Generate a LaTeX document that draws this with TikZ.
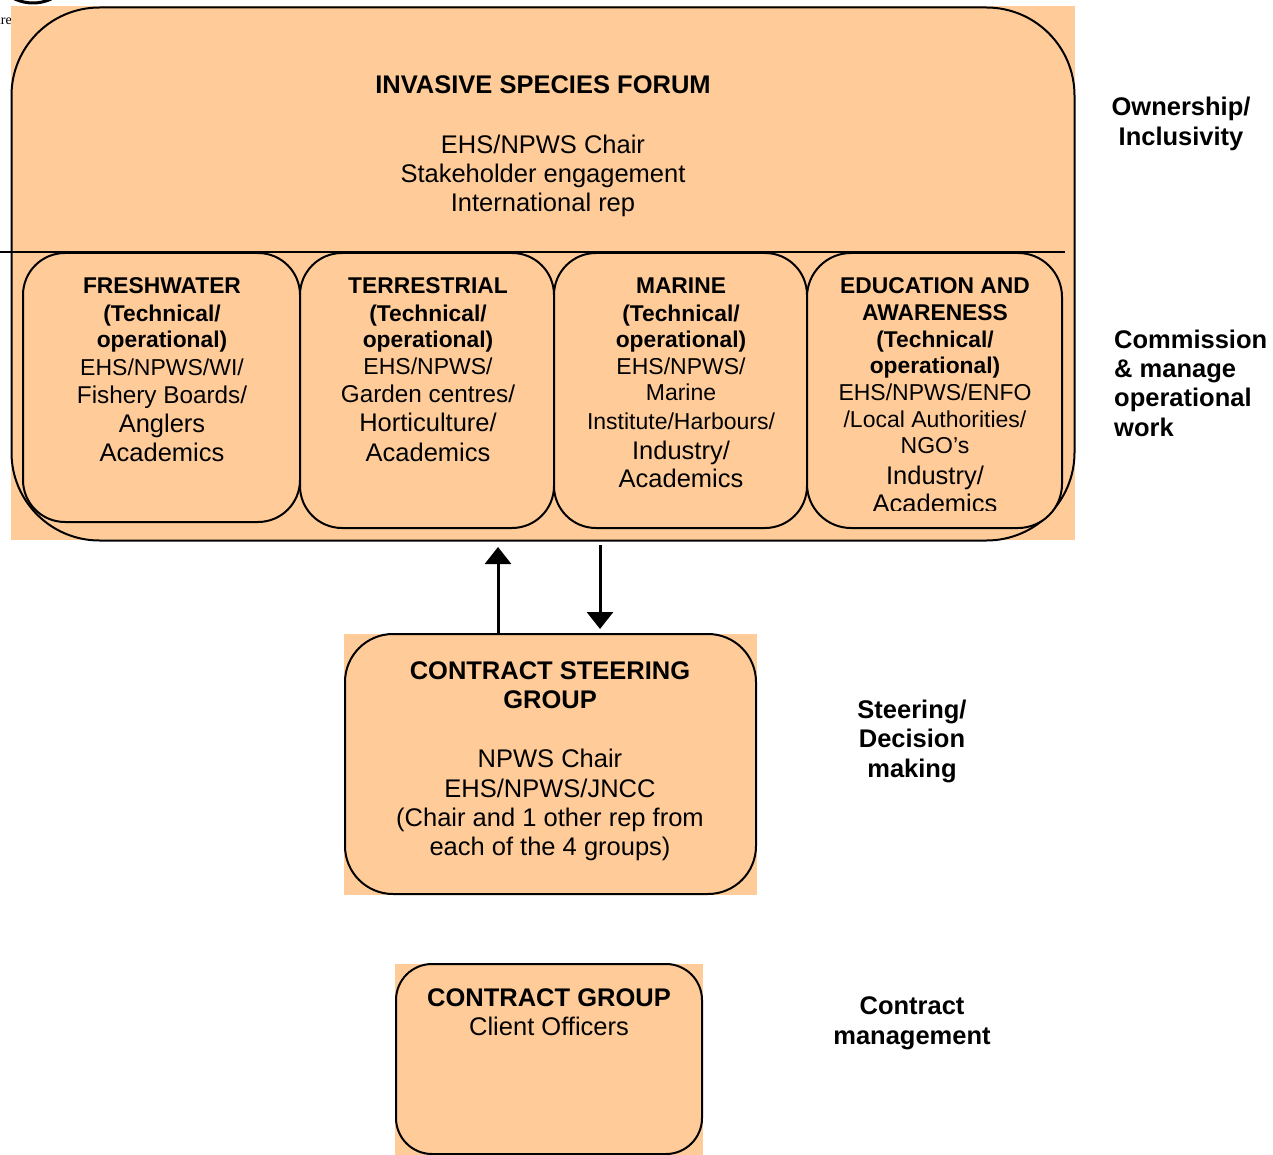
\documentclass[tikz,border=0pt]{standalone}
\usepackage{fontspec}
\setmainfont{Liberation Sans}
\newfontfamily\serifart{Liberation Serif}
\usetikzlibrary{arrows.meta}
\definecolor{peach}{RGB}{255,204,153}
\newcommand\tx[4]{\node[anchor=base,inner sep=0pt,#3] (#1) at (#2) {#4};}
\tikzset{
  bigB/.style={font=\fontsize{25.5}{30}\selectfont\bfseries},
  big/.style={font=\fontsize{25.5}{30}\selectfont},
  subB/.style={font=\fontsize{22.8}{27}\selectfont\bfseries},
  sm/.style={font=\fontsize{23}{27}\selectfont},
  md/.style={font=\fontsize{24.3}{28}\selectfont},
  outline/.style={draw=black,line width=2pt,fill=peach,inner sep=0pt},
  outlinenf/.style={draw=black,line width=2pt,inner sep=0pt},
  arr/.style={line width=3pt,-{Triangle[width=26pt,length=17pt]}},
}
\begin{document}
\begin{tikzpicture}[x=1pt,y=-1pt]
\useasboundingbox (0,0) rectangle (1273,1155);
% artefacts at top-left
\draw[line width=3pt] (33,-40) circle (43);
\node[anchor=base east,inner sep=0pt,font=\serifart\fontsize{14}{16}\selectfont] (ire) at (12,25) {ire};
% backgrounds
\fill[peach] (11,6) rectangle (1075,540);
\fill[peach] (344,634) rectangle (757,895);
\fill[peach] (395,964) rectangle (703,1155);
% forum outline
\node[outlinenf,rounded corners=88pt,minimum width=1063pt,minimum height=533pt] (forum) at (543,274) {};
\coordinate (hl0) at (0,252);
\coordinate (hl1) at (1065,252);
\draw[line width=1.5pt] (hl0) -- (hl1);
% sub boxes
\node[outline,rounded corners=42pt,minimum width=277pt,minimum height=269pt] (fw) at (161.5,387.5) {};
\node[outline,rounded corners=42pt,minimum width=254pt,minimum height=275pt] (te) at (427,390.5) {};
\node[outline,rounded corners=42pt,minimum width=253pt,minimum height=275pt] (ma) at (680.5,390.5) {};
\node[outline,rounded corners=44pt,minimum width=255pt,minimum height=275pt] (ed) at (934.5,390.5) {};
% forum text
\tx{f1}{543,94}{bigB}{INVASIVE SPECIES FORUM}
\tx{f2}{543,154}{big}{EHS/NPWS Chair}
\tx{f3}{543,183}{big}{Stakeholder engagement}
\tx{f4}{543,212}{big}{International rep}
% freshwater
\tx{fw1}{162,294}{subB}{FRESHWATER}
\tx{fw2}{162,321}{subB}{(Technical/}
\tx{fw3}{162,347}{subB}{operational)}
\tx{fw4}{162,375}{sm}{EHS/NPWS/WI/}
\tx{fw5}{162,403}{md}{Fishery Boards/}
\tx{fw6}{162,432}{big}{Anglers}
\tx{fw7}{162,461}{big}{Academics}
% terrestrial
\tx{te1}{428,294}{subB}{TERRESTRIAL}
\tx{te2}{428,321}{subB}{(Technical/}
\tx{te3}{428,347}{subB}{operational)}
\tx{te4}{428,374}{sm}{EHS/NPWS/}
\tx{te5}{428,402}{md}{Garden centres/}
\tx{te6}{428,431}{big}{Horticulture/}
\tx{te7}{428,461}{big}{Academics}
% marine
\tx{ma1}{681,294}{subB}{MARINE}
\tx{ma2}{681,321}{subB}{(Technical/}
\tx{ma3}{681,347}{subB}{operational)}
\tx{ma4}{681,374}{sm}{EHS/NPWS/}
\tx{ma5}{681,400}{sm}{Marine}
\tx{ma6}{681,429}{sm}{Institute/Harbours/}
\tx{ma7}{681,459}{big}{Industry/}
\tx{ma8}{681,487}{big}{Academics}
% education
\tx{ed1}{935,294}{subB}{EDUCATION AND}
\tx{ed2}{935,320}{subB}{AWARENESS}
\tx{ed3}{935,347}{subB}{(Technical/}
\tx{ed4}{935,373}{subB}{operational)}
\tx{ed5}{935,400}{sm}{EHS/NPWS/ENFO}
\tx{ed6}{935,427}{sm}{/Local Authorities/}
\tx{ed7}{935,453}{sm}{NGO’s}
\tx{ed8}{935,484}{big}{Industry/}
\begin{scope}
\clip (810,300) rectangle (1060,510);
\tx{ed9}{935,512}{big}{Academics}
\end{scope}
% contract steering group
\node[outlinenf,rounded corners=48pt,minimum width=411pt,minimum height=260pt] (csg) at (550.5,764) {};
\tx{c1}{550,679}{bigB}{CONTRACT STEERING}
\tx{c2}{550,708}{bigB}{GROUP}
\tx{c3}{550,767}{big}{NPWS Chair}
\tx{c4}{550,797}{big}{EHS/NPWS/JNCC}
\tx{c5}{550,826}{big}{(Chair and 1 other rep from}
\tx{c6}{550,855}{big}{each of the 4 groups)}
% arrows
\coordinate (upend) at (498,547);
\coordinate (downstart) at (600,545);
\draw[arr] (csg.north -| upend) -- (upend);
\draw[arr,shorten >=4pt] (downstart) -- (csg.north -| downstart);
% contract group
\node[outlinenf,rounded corners=36pt,minimum width=306pt,minimum height=190pt] (cg) at (549,1059) {};
\tx{g1}{549,1006}{bigB}{CONTRACT GROUP}
\tx{g2}{549,1035}{big}{Client Officers}
% right labels
\tx{r1}{1181,116}{bigB}{Ownership/}
\tx{r2}{1181,146}{bigB}{Inclusivity}
\tx{r3}{1114,348}{bigB,anchor=base west}{Commission}
\tx{r4}{1114,377}{bigB,anchor=base west}{\& manage}
\tx{r5}{1114,406}{bigB,anchor=base west}{operational}
\tx{r6}{1114,436}{bigB,anchor=base west}{work}
\tx{r7}{912,718}{bigB}{Steering/}
\tx{r8}{912,747}{bigB}{Decision}
\tx{r9}{912,777}{bigB}{making}
\tx{r10}{912,1014}{bigB}{Contract}
\tx{r11}{912,1044}{bigB}{management}
\end{tikzpicture}
\end{document}
